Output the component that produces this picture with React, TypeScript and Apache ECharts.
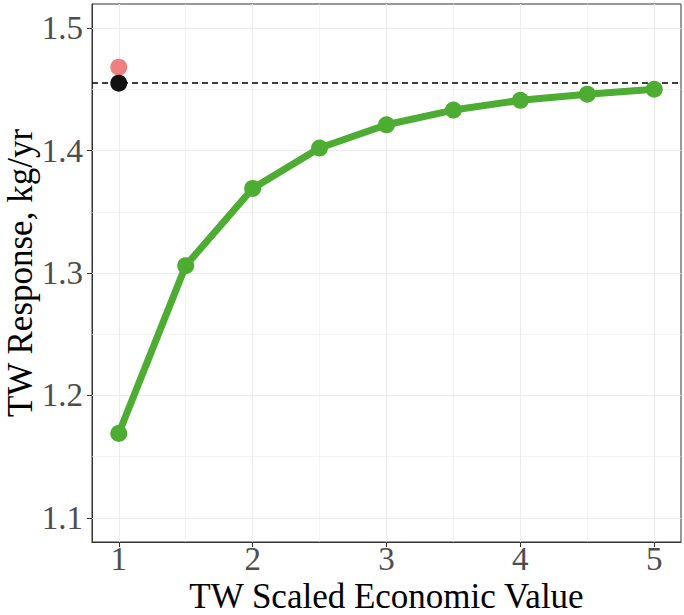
import React, { useEffect, useRef } from "react";
import * as echarts from "echarts";

const xValues = [1, 1.5, 2, 2.5, 3, 3.5, 4, 4.5, 5];
const twResponse = [1.169, 1.306, 1.369, 1.402, 1.421, 1.433, 1.441, 1.446, 1.450];
const blackPoint = [1, 1.455];
const pinkPoint = [1, 1.468];
const referenceLevel = 1.455;
const xTicks = [1, 2, 3, 4, 5];
const xMinor = [1.5, 2.5, 3.5, 4.5];
const yTicks = [1.1, 1.2, 1.3, 1.4, 1.5];
const yMinor = [1.15, 1.25, 1.35, 1.45];

const X_MIN = 0.8;
const X_MAX = 5.2;
const Y_MIN = 1.0804;
const Y_MAX = 1.5196;

const FONT = "Liberation Serif";

export default function App() {
  const ref = useRef<HTMLDivElement>(null);
  useEffect(() => {
    document.body.style.margin = "0";
    if (!ref.current) return;
    const chart = echarts.init(ref.current, undefined, { renderer: "svg" });
    const vLine = (v: number, w: number) => ({
      coords: [
        [v, Y_MIN],
        [v, Y_MAX],
      ],
      lineStyle: { width: w },
    });
    const hLine = (v: number, w: number) => ({
      coords: [
        [X_MIN, v],
        [X_MAX, v],
      ],
      lineStyle: { width: w },
    });
    chart.setOption({
      animation: false,
      backgroundColor: "#ffffff",
      grid: {
        left: 92,
        right: 3,
        top: 4,
        bottom: 73,
        containLabel: false,
        outerBoundsMode: "none",
        show: true,
        borderColor: "#333333",
        borderWidth: 1,
        backgroundColor: "transparent",
      },
      xAxis: {
        type: "value",
        min: X_MIN,
        max: X_MAX,
        name: "TW Scaled Economic Value",
        nameLocation: "middle",
        nameGap: 39,
        nameMoveOverlap: false,
        nameTextStyle: { fontFamily: FONT, fontSize: 35, lineHeight: 30, color: "#000000" },
        axisLine: { show: true, lineStyle: { color: "#333333", width: 1 } },
        axisTick: { show: true, length: 5, customValues: xTicks, lineStyle: { color: "#333333", width: 1 } },
        axisLabel: {
          customValues: xTicks,
          fontFamily: FONT,
          fontSize: 33,
          lineHeight: 30,
          color: "#4D4D4D",
          margin: 2,
        },
        splitLine: { show: false },
      },
      yAxis: {
        type: "value",
        min: Y_MIN,
        max: Y_MAX,
        name: "TW Response, kg/yr",
        nameLocation: "middle",
        nameRotate: 90,
        nameGap: 54,
        nameMoveOverlap: false,
        nameTextStyle: { fontFamily: FONT, fontSize: 35, color: "#000000" },
        axisLine: { show: true, lineStyle: { color: "#333333", width: 1 } },
        axisTick: { show: true, length: 5, customValues: yTicks, lineStyle: { color: "#333333", width: 1 } },
        axisLabel: {
          customValues: yTicks,
          fontFamily: FONT,
          fontSize: 33,
          color: "#4D4D4D",
          margin: 9,
          formatter: (v: number) => v.toFixed(1),
        },
        splitLine: { show: false },
      },
      series: [
        {
          type: "lines",
          coordinateSystem: "cartesian2d",
          silent: true,
          z: 1,
          lineStyle: { color: "#EBEBEB", opacity: 1, type: "solid" },
          data: [
            ...xMinor.map((v) => vLine(v, 0.6)),
            ...yMinor.map((v) => hLine(v, 0.6)),
            ...xTicks.map((v) => vLine(v, 1.1)),
            ...yTicks.map((v) => hLine(v, 1.1)),
          ],
        },
        {
          type: "lines",
          coordinateSystem: "cartesian2d",
          silent: true,
          z: 2,
          lineStyle: { color: "#000000", width: 1.5, opacity: 1, type: [6, 4] },
          data: [
            {
              coords: [
                [X_MIN, referenceLevel],
                [X_MAX, referenceLevel],
              ],
            },
          ],
        },
        {
          type: "scatter",
          data: [pinkPoint],
          symbolSize: 17,
          itemStyle: { color: "#F08080", opacity: 1 },
          z: 3,
        },
        {
          type: "scatter",
          data: [blackPoint],
          symbolSize: 17,
          itemStyle: { color: "#111111", opacity: 1 },
          z: 4,
        },
        {
          type: "line",
          data: xValues.map((x, i) => [x, twResponse[i]]),
          symbol: "circle",
          symbolSize: 17,
          showSymbol: true,
          lineStyle: { color: "#4DAD33", width: 7 },
          itemStyle: { color: "#4DAD33" },
          z: 5,
        },
      ],
    });
    return () => chart.dispose();
  }, []);
  return <div ref={ref} style={{ width: 684, height: 615 }} />;
}
